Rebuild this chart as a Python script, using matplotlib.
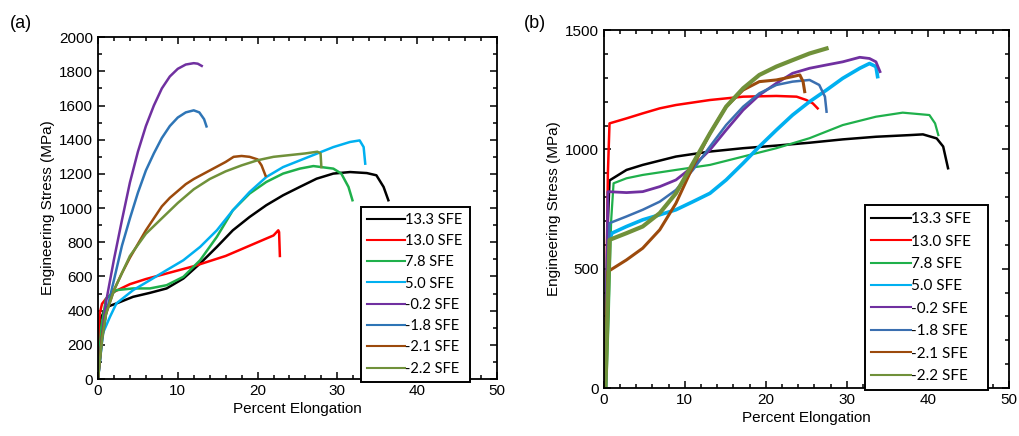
import matplotlib
matplotlib.use('Agg')
from matplotlib import pyplot as plt
from matplotlib.ticker import MultipleLocator

plt.rcParams['font.family'] = ['Liberation Sans', 'DejaVu Sans']

labels = ['13.3 SFE', '13.0 SFE', '7.8 SFE', '5.0 SFE', '-0.2 SFE', '-1.8 SFE', '-2.1 SFE', '-2.2 SFE']
colors_a = ['#000000', '#ff0000', '#1fb04b', '#00b0f0', '#7030a0', '#2e75b6', '#9c4a0c', '#70913a']
colors_b = ['#000000', '#ff0000', '#1fb04b', '#00b0f0', '#7030a0', '#3b6fb0', '#9c4a0c', '#70913a']

# panel (a) curves: percent elongation, stress (MPa)
a_x = [
    [0, 0.3, 1, 2.3, 4.4, 6.5, 8.6, 10.7, 12.8, 14.9, 16.9, 19.0, 21.1, 23.2, 25.3, 27.4, 29.5, 31.6, 33.7, 34.9, 35.8, 36.4],
    [0, 0.2, 0.5, 1, 2, 4, 6, 8, 10, 12, 14, 16, 18, 20, 22, 22.6, 22.7, 22.8],
    [0, 0.4, 1, 2.3, 4.4, 6.5, 8.6, 10.7, 12.8, 14.9, 16.9, 19.0, 21.1, 23.2, 25.3, 27.0, 29.5, 30.5, 31.4, 31.9],
    [0, 0.6, 1.5, 2.3, 4.4, 6.5, 8.6, 10.7, 12.8, 14.9, 16.9, 19.0, 21.1, 23.2, 25.3, 27.4, 29.5, 31.6, 32.8, 33.3, 33.5],
    [0, 0.5, 1, 2, 3, 4, 5, 6, 7, 8, 9, 10, 11, 12, 12.5, 13],
    [0, 0.5, 1, 2, 3, 4, 5, 6, 7, 8, 9, 10, 11, 12, 12.7, 13.3, 13.6],
    [0, 0.5, 1, 2, 3, 4, 5, 6, 7, 8, 9, 10, 11, 12, 13, 14, 15, 16, 17, 18, 19, 20, 20.5, 21],
    [0, 0.5, 1, 2, 3, 4, 6, 8, 10, 12, 14, 16, 18, 20, 22, 24, 26, 27.5, 27.9, 28],
]
a_y = [
    [0, 350, 420, 442, 481, 504, 530, 588, 676, 773, 870, 948, 1017, 1075, 1124, 1172, 1202, 1211, 1205, 1192, 1124, 1046],
    [0, 380, 440, 470, 510, 555, 585, 610, 635, 660, 690, 720, 760, 800, 840, 870, 860, 720],
    [0, 300, 470, 520, 530, 530, 549, 598, 695, 832, 987, 1085, 1153, 1202, 1231, 1246, 1231, 1202, 1124, 1046],
    [0, 267, 364, 442, 520, 578, 637, 695, 773, 870, 987, 1094, 1182, 1240, 1279, 1318, 1357, 1387, 1396, 1357, 1260],
    [0, 250, 450, 700, 930, 1150, 1330, 1480, 1600, 1700, 1770, 1815, 1840, 1848, 1845, 1832],
    [0, 220, 380, 580, 780, 940, 1090, 1220, 1320, 1410, 1480, 1530, 1560, 1572, 1560, 1520, 1478],
    [0, 250, 380, 520, 620, 710, 790, 870, 940, 1010, 1060, 1100, 1140, 1170, 1195, 1220, 1245, 1270, 1300, 1305, 1300, 1285, 1250, 1190],
    [0, 230, 380, 520, 620, 720, 850, 940, 1030, 1110, 1170, 1215, 1250, 1280, 1300, 1310, 1320, 1330, 1320, 1240],
]

# panel (b) curves
b_x = [
    [0.2, 0.5, 0.7, 2.8, 4.8, 8.9, 13.1, 17.2, 21.3, 25.4, 29.5, 33.6, 37.8, 39.4, 41.1, 41.9, 42.5],
    [0.15, 0.5, 0.7, 2.8, 4.8, 6.9, 8.9, 13.1, 17.2, 21.3, 23.8, 25.0, 25.8, 26.4],
    [0.3, 0.6, 0.9, 1.2, 2.8, 4.8, 8.9, 13.1, 17.2, 21.3, 25.4, 29.5, 33.6, 36.9, 40.2, 40.9, 41.3],
    [0.2, 0.5, 1.0, 2.8, 4.8, 6.9, 8.9, 11.0, 13.1, 15.1, 17.2, 19.2, 21.3, 23.3, 25.4, 27.5, 29.5, 31.6, 32.8, 33.6, 33.8],
    [0.2, 0.5, 2.8, 4.8, 6.9, 8.9, 11.0, 13.1, 15.1, 17.2, 19.2, 21.3, 23.3, 25.4, 27.5, 29.5, 31.6, 32.8, 33.6, 34.1],
    [0.2, 0.7, 2.8, 4.8, 6.9, 8.9, 11.0, 13.1, 15.1, 17.2, 19.2, 21.3, 23.3, 25.4, 26.6, 27.3, 27.5],
    [0.1, 0.5, 2.8, 4.8, 6.9, 8.9, 11.0, 13.1, 15.1, 17.2, 19.2, 21.3, 23.3, 24.2, 24.6, 24.8],
    [0.2, 0.7, 2.8, 4.8, 6.9, 8.9, 11.0, 13.1, 15.1, 17.2, 19.2, 21.3, 23.3, 25.4, 27.5],
]
b_y = [
    [0, 700, 870, 914, 935, 970, 991, 1005, 1016, 1028, 1042, 1053, 1060, 1063, 1046, 1012, 921],
    [0, 900, 1109, 1130, 1151, 1172, 1186, 1207, 1221, 1224, 1221, 1207, 1193, 1172],
    [0, 300, 700, 858, 879, 893, 914, 935, 970, 1005, 1047, 1102, 1137, 1154, 1144, 1109, 1060],
    [0, 600, 649, 677, 705, 726, 747, 781, 816, 872, 942, 1012, 1081, 1144, 1200, 1249, 1298, 1340, 1360, 1347, 1305],
    [0, 823, 819, 823, 844, 872, 928, 998, 1081, 1165, 1228, 1277, 1319, 1340, 1354, 1367, 1386, 1381, 1367, 1326],
    [0, 691, 719, 747, 781, 830, 914, 1012, 1102, 1179, 1235, 1270, 1284, 1291, 1270, 1221, 1158],
    [0, 488, 537, 586, 663, 774, 928, 1067, 1179, 1249, 1284, 1291, 1305, 1312, 1284, 1242],
    [0, 621, 649, 677, 733, 816, 942, 1067, 1179, 1256, 1312, 1347, 1374, 1402, 1423],
]
lw_b = [1.8, 1.8, 1.6, 2.6, 2.0, 1.8, 2.2, 3.0]

fig = plt.figure(figsize=(10.2, 4.36), dpi=100)
ax1 = fig.add_axes([0.0961, 0.1307, 0.391, 0.784])
ax2 = fig.add_axes([0.592, 0.110, 0.397, 0.821])


def style(ax, ymax, ymajor, yminor):
    ax.set_xlim(0, 50)
    ax.set_ylim(0, ymax)
    ax.xaxis.set_major_locator(MultipleLocator(10))
    ax.xaxis.set_minor_locator(MultipleLocator(2))
    ax.yaxis.set_major_locator(MultipleLocator(ymajor))
    ax.yaxis.set_minor_locator(MultipleLocator(yminor))
    ax.tick_params(which='both', direction='in', top=True, right=True, labelsize=11, width=1.1)
    ax.tick_params(which='major', length=5)
    ax.tick_params(which='minor', length=3)
    for s in ax.spines.values():
        s.set_linewidth(1.3)
    ax.set_xlabel('Percent Elongation', fontsize=11, labelpad=3)
    ax.set_ylabel('Engineering Stress (MPa)', fontsize=11, labelpad=3)


for i in range(8):
    ax1.plot(a_x[i], a_y[i], color=colors_a[i], lw=1.8, label=labels[i])
for i in range(8):
    ax2.plot(b_x[i], b_y[i], color=colors_b[i], lw=lw_b[i], label=labels[i])

style(ax1, 2000, 200, 100)
style(ax2, 1500, 500, 100)

leg1 = ax1.legend(loc='upper left', bbox_to_anchor=(0.642, 0.515, 0.31, 0.01), mode='expand',
                  prop={'family': 'Lato', 'size': 10.5}, handlelength=2.6, handletextpad=0.0,
                  labelspacing=0.5, fancybox=False, edgecolor='black', framealpha=1, borderpad=0.4)
leg1.get_frame().set_linewidth(1.4)
for h in leg1.get_lines():
    h.set_linewidth(1.5)

leg2 = ax2.legend(loc='upper left', bbox_to_anchor=(0.625, 0.522, 0.343, 0.01), mode='expand',
                  prop={'family': 'Lato', 'size': 11}, handlelength=2.6, handletextpad=0.0,
                  labelspacing=0.55, fancybox=False, edgecolor='black', framealpha=1, borderpad=0.45)
leg2.get_frame().set_linewidth(1.4)
for h in leg2.get_lines():
    h.set_linewidth(1.5)

fig.text(0.010, 0.935, '(a)', fontsize=13)
fig.text(0.514, 0.935, '(b)', fontsize=13)

fig.savefig('out.png', dpi=100)
